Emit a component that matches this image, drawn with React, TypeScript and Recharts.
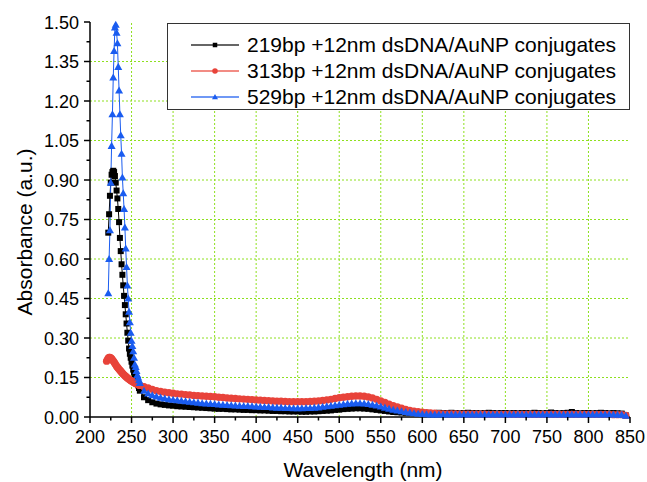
import React from "react";
import { LineChart, Line, XAxis, YAxis, ReferenceLine, Legend } from "recharts";

// wavelength (nm): 1 nm steps over the peak, 5 nm steps after
const WAVELENGTH = [
  220, 221, 222, 223, 224, 225, 226, 227, 228, 229,
  230, 231, 232, 233, 234, 235, 236, 237, 238, 239,
  240, 241, 242, 243, 244, 245, 246, 247, 248, 249,
  250, 251, 252, 253, 254, 255, 256, 257, 258, 259,
  260,
  265, 270, 275, 280, 285, 290, 295, 300, 305, 310,
  315, 320, 325, 330, 335, 340, 345, 350, 355, 360,
  365, 370, 375, 380, 385, 390, 395, 400, 405, 410,
  415, 420, 425, 430, 435, 440, 445, 450, 455, 460,
  465, 470, 475, 480, 485, 490, 495, 500, 505, 510,
  515, 520, 525, 530, 535, 540, 545, 550, 555, 560,
  565, 570, 575, 580, 585, 590, 595, 600, 605, 610,
  615, 620, 625, 630, 635, 640, 645, 650, 655, 660,
  665, 670, 675, 680, 685, 690, 695, 700, 705, 710,
  715, 720, 725, 730, 735, 740, 745, 750, 755, 760,
  765, 770, 775, 780, 785, 790, 795, 800, 805, 810,
  815, 820, 825, 830, 835, 840, 845,
];

const BP219 = [
  null, null, 0.7, 0.77, 0.84, 0.89, 0.92, 0.93, 0.935, 0.93,
  0.915, 0.89, 0.86, 0.83, 0.79, 0.74, 0.68, 0.63, 0.58, 0.54,
  0.5, 0.46, 0.425, 0.39, 0.355, 0.32, 0.29, 0.26, 0.24, 0.225,
  0.21, 0.195, 0.18, 0.17, 0.16, 0.15, 0.14, 0.13, 0.12, 0.11,
  0.1,
  0.075, 0.064, 0.056, 0.051, 0.048, 0.046, 0.044, 0.043, 0.041, 0.04,
  0.039, 0.038, 0.037, 0.036, 0.035, 0.034, 0.033, 0.032, 0.031, 0.031,
  0.03, 0.029, 0.029, 0.028, 0.027, 0.027, 0.026, 0.026, 0.025, 0.025,
  0.024, 0.023, 0.023, 0.022, 0.022, 0.021, 0.021, 0.021, 0.02, 0.02,
  0.021, 0.021, 0.022, 0.023, 0.024, 0.025, 0.027, 0.028, 0.03, 0.031,
  0.032, 0.033, 0.033, 0.032, 0.031, 0.029, 0.027, 0.025, 0.023, 0.021,
  0.019, 0.018, 0.017, 0.016, 0.016, 0.015, 0.015, 0.015, 0.016, 0.015,
  0.015, 0.016, 0.015, 0.015, 0.016, 0.015, 0.014, 0.015, 0.016, 0.015,
  0.015, 0.014, 0.015, 0.016, 0.015, 0.014, 0.015, 0.015, 0.014, 0.015,
  0.014, 0.015, 0.015, 0.014, 0.016, 0.015, 0.014, 0.015, 0.017, 0.015,
  0.014, 0.015, 0.016, 0.019, 0.015, 0.014, 0.015, 0.015, 0.014, 0.015,
  0.016, 0.015, 0.014, 0.015, 0.014, 0.013, 0.006,
];

const BP313 = [
  0.212, 0.218, 0.223, 0.226, 0.226, 0.224, 0.221, 0.217, 0.213, 0.208,
  0.203, 0.198, 0.193, 0.189, 0.185, 0.181, 0.178, 0.174, 0.17, 0.166,
  0.163, 0.16, 0.157, 0.154, 0.151, 0.148, 0.146, 0.143, 0.141, 0.139,
  0.137, 0.135, 0.133, 0.131, 0.129, 0.127, 0.126, 0.124, 0.123, 0.121,
  0.12,
  0.115, 0.11, 0.105, 0.1, 0.097, 0.094, 0.092, 0.09, 0.088, 0.087,
  0.085, 0.084, 0.082, 0.081, 0.08, 0.079, 0.078, 0.077, 0.075, 0.074,
  0.072, 0.071, 0.07, 0.069, 0.068, 0.067, 0.066, 0.065, 0.064, 0.063,
  0.062, 0.061, 0.06, 0.06, 0.059, 0.058, 0.058, 0.058, 0.058, 0.058,
  0.059, 0.06, 0.061, 0.063, 0.065, 0.067, 0.07, 0.073, 0.075, 0.077,
  0.079, 0.08, 0.08, 0.079, 0.076, 0.072, 0.067, 0.061, 0.055, 0.049,
  0.043, 0.038, 0.033, 0.029, 0.025, 0.022, 0.02, 0.018, 0.016, 0.015,
  0.014, 0.013, 0.012, 0.012, 0.012, 0.012, 0.011, 0.011, 0.011, 0.011,
  0.011, 0.011, 0.011, 0.01, 0.01, 0.01, 0.01, 0.01, 0.01, 0.01,
  0.01, 0.01, 0.01, 0.01, 0.01, 0.01, 0.01, 0.01, 0.01, 0.01,
  0.01, 0.01, 0.01, 0.01, 0.01, 0.01, 0.01, 0.01, 0.01, 0.01,
  0.01, 0.01, 0.01, 0.009, 0.009, 0.009, 0.006,
];

const BP529 = [
  null, null, 0.47, 0.6, 0.71, 0.89, 1.03, 1.15, 1.29, 1.39,
  1.48, 1.49, 1.46, 1.42, 1.33, 1.24, 1.15, 1.07, 1.0, 0.91,
  0.85, 0.79, 0.72, 0.64, 0.57, 0.5, 0.45, 0.4, 0.36, 0.32,
  0.29, 0.27, 0.25, 0.225, 0.2, 0.19, 0.175, 0.16, 0.15, 0.14,
  0.13,
  0.1, 0.09, 0.083, 0.078, 0.074, 0.071, 0.068, 0.066, 0.064, 0.062,
  0.06, 0.058, 0.056, 0.055, 0.053, 0.052, 0.051, 0.05, 0.048, 0.047,
  0.046, 0.045, 0.044, 0.043, 0.042, 0.042, 0.041, 0.04, 0.039, 0.038,
  0.038, 0.037, 0.036, 0.036, 0.035, 0.035, 0.034, 0.034, 0.034, 0.035,
  0.035, 0.036, 0.037, 0.039, 0.041, 0.043, 0.045, 0.047, 0.049, 0.051,
  0.052, 0.053, 0.053, 0.052, 0.05, 0.047, 0.044, 0.04, 0.036, 0.032,
  0.028, 0.025, 0.022, 0.019, 0.017, 0.015, 0.013, 0.012, 0.011, 0.01,
  0.01, 0.01, 0.01, 0.01, 0.01, 0.01, 0.01, 0.01, 0.01, 0.01,
  0.01, 0.01, 0.01, 0.01, 0.01, 0.01, 0.01, 0.01, 0.01, 0.01,
  0.01, 0.01, 0.01, 0.01, 0.01, 0.01, 0.01, 0.01, 0.01, 0.01,
  0.01, 0.01, 0.01, 0.01, 0.01, 0.01, 0.01, 0.01, 0.01, 0.01,
  0.01, 0.01, 0.01, 0.01, 0.009, 0.009, 0.005,
];

const X_MAJOR = [200, 250, 300, 350, 400, 450, 500, 550, 600, 650, 700, 750, 800, 850];
const X_MINOR = [225, 275, 325, 375, 425, 475, 525, 575, 625, 675, 725, 775, 825];
const Y_MAJOR = [0, 0.15, 0.3, 0.45, 0.6, 0.75, 0.9, 1.05, 1.2, 1.35, 1.5];
const Y_MINOR = [0.075, 0.225, 0.375, 0.525, 0.675, 0.825, 0.975, 1.125, 1.275, 1.425];

const FONT = "Arial, 'Liberation Sans', sans-serif";
const GRID_COLOR = "#8ee01e";

const SERIES = [
  { key: "bp219", name: "219bp +12nm dsDNA/AuNP conjugates", color: "#000000", legendLine: "#666666", shape: "square" },
  { key: "bp313", name: "313bp +12nm dsDNA/AuNP conjugates", color: "#e8433a", legendLine: "#f28c84", shape: "circle" },
  { key: "bp529", name: "529bp +12nm dsDNA/AuNP conjugates", color: "#1a5cf0", legendLine: "#6f98f5", shape: "triangle" },
];

const data = WAVELENGTH.map((w, i) => ({
  w,
  bp219: BP219[i],
  bp313: BP313[i],
  bp529: BP529[i],
}));

function Marker({ cx, cy, shape, color, s = 1 }: any) {
  if (shape === "square") {
    const h = 3 * s;
    return <rect x={cx - h} y={cy - h} width={2 * h} height={2 * h} fill={color} />;
  }
  if (shape === "circle") {
    return <circle cx={cx} cy={cy} r={3.7 * s} fill={color} />;
  }
  const w = 4 * s;
  const h = 3.9 * s;
  return <polygon points={`${cx},${cy - h} ${cx - w},${cy + h * 0.8} ${cx + w},${cy + h * 0.8}`} fill={color} />;
}

const makeDot = (shape: string, color: string) => (p: any) => {
  if (p.cx == null || p.cy == null || p.value == null || Number.isNaN(p.cy)) {
    return <g key={`e-${p.index}`} />;
  }
  return <Marker key={`d-${p.index}`} cx={p.cx} cy={p.cy} shape={shape} color={color} />;
};

const XTick = ({ x, y, payload }: any) => {
  const major = X_MAJOR.includes(payload.value);
  return (
    <g>
      <line x1={x} x2={x} y1={y} y2={y + (major ? 6 : 3.5)} stroke="#000" strokeWidth={1.5} />
      {major && (
        <text x={x} y={y + 26} textAnchor="middle" fontSize={18} fontFamily={FONT} fill="#000">
          {payload.value}
        </text>
      )}
    </g>
  );
};

const YTick = ({ x, y, payload }: any) => {
  const major = Y_MAJOR.includes(payload.value);
  return (
    <g>
      <line x1={x - (major ? 6 : 3.5)} x2={x} y1={y} y2={y} stroke="#000" strokeWidth={1.5} />
      {major && (
        <text x={x - 11} y={y + 6.5} textAnchor="end" fontSize={18} fontFamily={FONT} fill="#000">
          {payload.value.toFixed(2)}
        </text>
      )}
    </g>
  );
};

const LegendBox = () => (
  <div
    style={{
      width: 463,
      height: 87,
      border: "1px solid #333",
      boxSizing: "border-box",
      background: "#fff",
      paddingTop: 8,
      fontFamily: FONT,
      fontSize: 21,
      color: "#000",
    }}
  >
    {SERIES.map((s) => (
      <div key={s.key} style={{ display: "flex", alignItems: "center", height: 26, whiteSpace: "nowrap" }}>
        <svg width={48} height={26} style={{ marginLeft: 23, marginRight: 8, flex: "none" }}>
          <line x1={0} x2={48} y1={13} y2={13} stroke={s.legendLine} strokeWidth={2} />
          <Marker cx={24} cy={13} shape={s.shape} color={s.color} s={0.75} />
        </svg>
        <span>{s.name}</span>
      </div>
    ))}
  </div>
);

export default function App() {
  return (
    <div>
      <style>{"body{margin:0;background:#fff}"}</style>
      <LineChart
        width={647}
        height={482}
        data={data}
        margin={{ top: 22, right: 17, bottom: 5, left: 0 }}
        style={{ fontFamily: FONT }}
      >
        {Y_MAJOR.slice(1, -1).map((v) => (
          <ReferenceLine
            key={`gy-${v}`}
            y={v}
            stroke={GRID_COLOR}
            strokeWidth={1}
            strokeDasharray="2 2"
          />
        ))}
        {X_MAJOR.slice(1, -1).map((v) => (
          <ReferenceLine
            key={`gx-${v}`}
            x={v}
            stroke={GRID_COLOR}
            strokeWidth={1}
            strokeDasharray="2 2"
          />
        ))}
        <XAxis
          dataKey="w"
          type="number"
          domain={[200, 850]}
          ticks={[...X_MAJOR, ...X_MINOR].sort((a, b) => a - b)}
          interval={0}
          tickSize={0}
          tickMargin={0}
          tickLine={false}
          tick={<XTick />}
          axisLine={{ stroke: "#000", strokeWidth: 1.5 }}
          height={60}
          label={{
            content: ({ viewBox }: any) => (
              <text
                x={viewBox.x + viewBox.width / 2 + 3}
                y={477}
                textAnchor="middle"
                fontSize={21}
                fontFamily={FONT}
                fill="#000"
              >
                Wavelength (nm)
              </text>
            ),
          }}
        />
        <YAxis
          type="number"
          domain={[0, 1.5]}
          ticks={[...Y_MAJOR, ...Y_MINOR].sort((a, b) => a - b)}
          interval={0}
          tickSize={0}
          tickMargin={0}
          tickLine={false}
          tick={<YTick />}
          axisLine={{ stroke: "#000", strokeWidth: 1.5 }}
          width={90}
          label={{
            content: () => (
              <text
                x={24}
                y={232}
                transform="rotate(-90 24 232)"
                textAnchor="middle"
                dominantBaseline="central"
                fontSize={21}
                fontFamily={FONT}
                fill="#000"
              >
                Absorbance (a.u.)
              </text>
            ),
          }}
        />
        <Legend
          layout="vertical"
          align="center"
          verticalAlign="middle"
          wrapperStyle={{ left: 167, top: 23, width: 463 }}
          content={() => <LegendBox />}
        />
        {SERIES.map((s) => (
          <Line
            key={s.key}
            type="linear"
            dataKey={s.key}
            name={s.name}
            stroke={s.color}
            strokeWidth={1}
            dot={makeDot(s.shape, s.color)}
            activeDot={false}
            isAnimationActive={false}
          />
        ))}
      </LineChart>
    </div>
  );
}
